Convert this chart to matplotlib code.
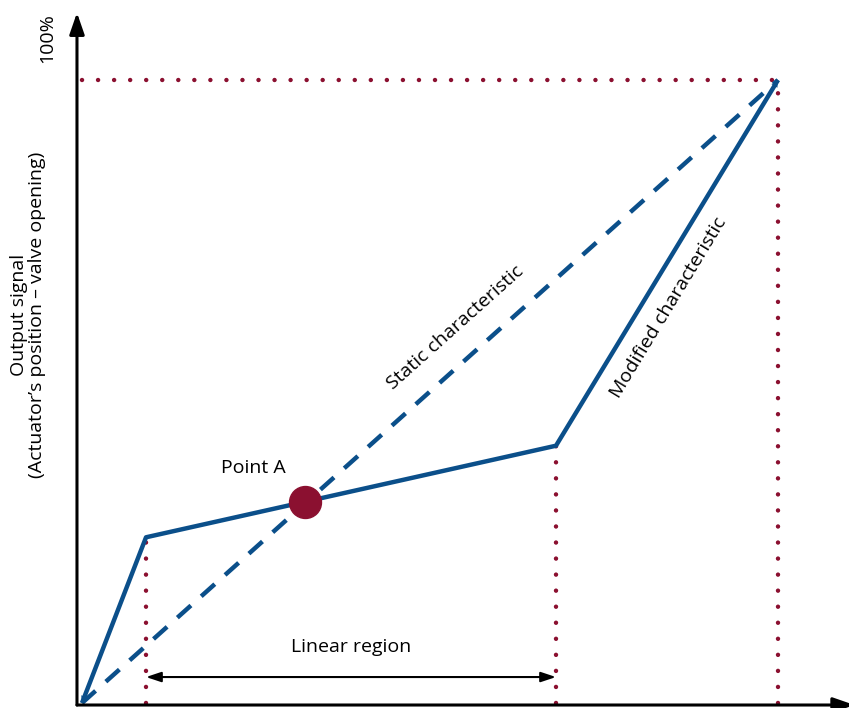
import numpy as np
from matplotlib import pyplot as plt

plt.rcParams['font.family'] = ['Open Sans', 'DejaVu Sans']

# Input / output in percent
static_x = [0, 100]
static_y = [0, 100]
modified_x = [0, 9.2, 68.1, 100]
modified_y = [0, 26.6, 41.3, 100]
point_a = (32.0, 32.2)
region_bounds = [9.2, 68.1]

blue = '#0b4f8a'
red = '#8b1030'

fig = plt.figure(figsize=(8.49, 7.08), dpi=100)
ax = fig.add_axes([0, 0, 1, 1])
ax.set_xlim(-11.78, 110.2)
ax.set_ylim(-0.8, 112.84)
ax.axis('off')

dots = dict(color=red, lw=3.2, linestyle=(0, (0.01, 3.6)), dash_capstyle='round')
ax.plot([0, 100], [100, 100], **dots)
ax.plot([100, 100], [0, 100], **dots)
for xb, yb in zip(region_bounds, [modified_y[1], modified_y[2]]):
    ax.plot([xb, xb], [0, yb], **dots)

ax.plot(static_x, static_y, color=blue, lw=3.2, linestyle=(0, (4.1, 3.1)))
ax.plot(modified_x, modified_y, color=blue, lw=3.2, solid_capstyle='butt')
# small heads at both ends of the modified curve
for tip, tail in [((modified_x[0], modified_y[0]), (modified_x[1], modified_y[1])),
                  ((modified_x[-1], modified_y[-1]), (modified_x[-2], modified_y[-2]))]:
    t = 0.06
    start = (tip[0] + (tail[0] - tip[0]) * t, tip[1] + (tail[1] - tip[1]) * t)
    ax.annotate('', xy=tip, xytext=start,
                arrowprops=dict(arrowstyle='-|>,head_length=0.5,head_width=0.25',
                                color=blue, lw=0, shrinkA=0, shrinkB=0))

ax.plot(*point_a, 'o', color=red, markersize=23)

# axes with arrows
ax.annotate('', xy=(-0.72, 110.8), xytext=(-0.72, -0.32), annotation_clip=False,
            arrowprops=dict(arrowstyle='-|>,head_length=1.3,head_width=0.45',
                            color='black', lw=2.2, shrinkA=0, shrinkB=0))
ax.annotate('', xy=(111.0, -0.32), xytext=(-0.72, -0.32), annotation_clip=False,
            arrowprops=dict(arrowstyle='-|>,head_length=1.3,head_width=0.45',
                            color='black', lw=2.2, shrinkA=0, shrinkB=0))

# linear region
ax.annotate('', xy=(region_bounds[0], 4.17), xytext=(region_bounds[1], 4.17),
            arrowprops=dict(arrowstyle='<|-|>,head_length=0.9,head_width=0.3',
                            color='black', lw=1.5, shrinkA=0, shrinkB=0))
ax.text(38.6, 9.0, 'Linear region', ha='center', va='center', fontsize=14)

ax.text(24.6, 37.7, 'Point A', ha='center', va='center', fontsize=14)
ax.text(53.6, 60.2, 'Static characteristic', ha='center', va='center',
        fontsize=14, rotation=41.8, rotation_mode='anchor')
ax.text(84.2, 63.4, 'Modified characteristic', ha='center', va='center',
        fontsize=14, rotation=58.8, rotation_mode='anchor')
ax.text(-5.0, 106.7, '100%', ha='center', va='center', fontsize=14, rotation=90)
ax.text(-7.76, 62.3, 'Output signal\n(Actuator\u2019s position \u2013 valve opening)',
        ha='center', va='center', fontsize=14, rotation=90, linespacing=1.05)

fig.savefig('out.png', dpi=100)
